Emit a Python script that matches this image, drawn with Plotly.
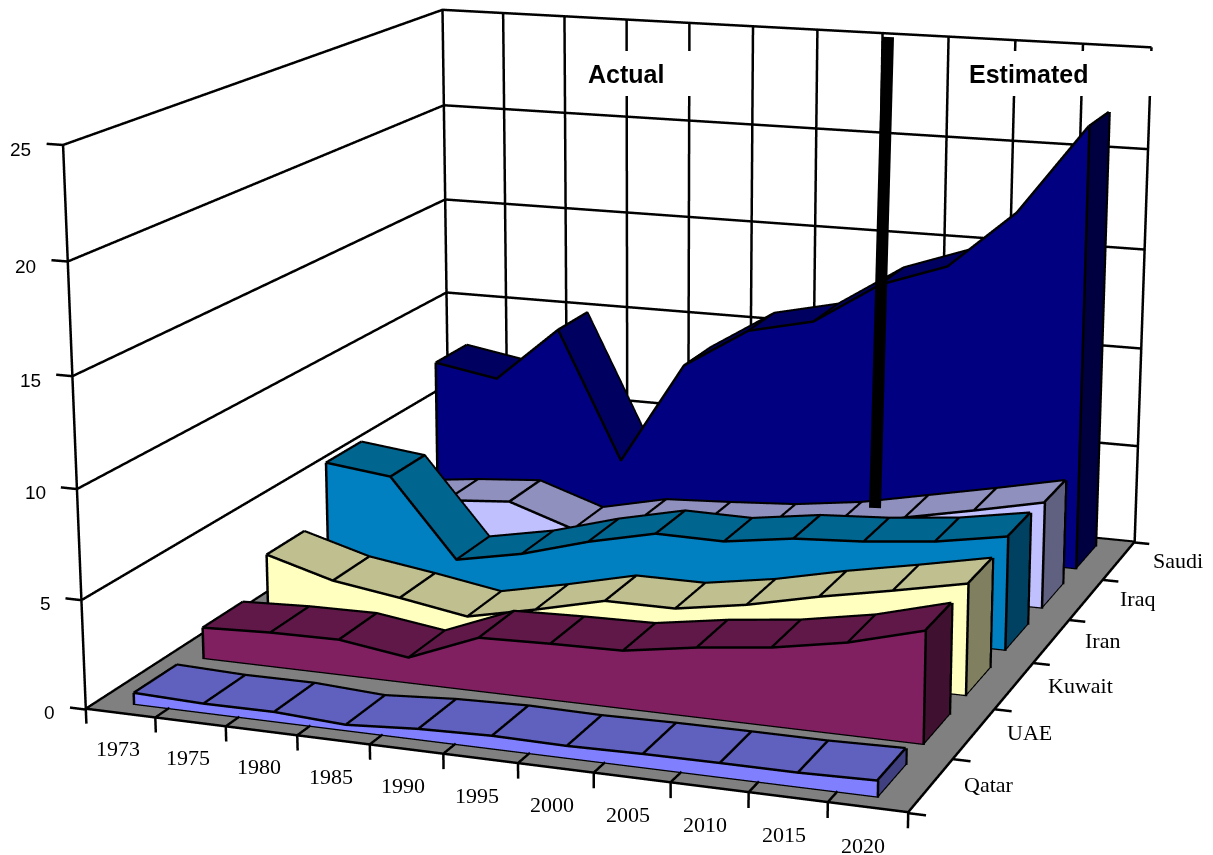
import numpy as np
import plotly.graph_objects as go

W, H = 1213, 855

YEARS = ['1973', '1975', '1980', '1985', '1990', '1995', '2000', '2005', '2010', '2015', '2020']
COUNTRIES = ['Qatar', 'UAE', 'Kuwait', 'Iran', 'Iraq', 'Saudi']
Z_TICKS = [0, 5, 10, 15, 20, 25]

# Output by country and year, front row to back row
QATAR = [0.52, 0.42, 0.44, 0.26, 0.48, 0.58, 0.54, 0.60, 0.62, 0.62, 0.70]
UAE = [1.46, 1.60, 1.64, 1.18, 2.48, 2.58, 2.64, 3.16, 3.54, 4.14, 5.04]
KUWAIT = [3.00, 2.08, 1.60, 1.06, 1.76, 2.54, 2.54, 3.08, 3.82, 4.46, 5.14]
IRAN = [5.72, 5.34, 1.52, 2.16, 3.10, 3.84, 3.80, 4.28, 4.48, 4.82, 5.40]
IRAQ = [1.96, 2.34, 2.60, 1.52, 2.26, 2.44, 2.66, 3.10, 3.78, 4.46, 5.18]
SAUDI = [7.56, 7.00, 9.84, 3.28, 8.54, 10.60, 11.34, 13.46, 14.62, 17.52, 21.92]
SERIES = [QATAR, UAE, KUWAIT, IRAN, IRAQ, SAUDI]

# Front, top and end-cap shades for each ribbon
SHADES = [
    ('#8080FF', '#6060BF', '#404080'),
    ('#802060', '#601848', '#401030'),
    ('#FFFFC0', '#BFBF90', '#808060'),
    ('#0080C0', '#006690', '#004060'),
    ('#C0C0FF', '#9090BF', '#606080'),
    ('#000080', '#000060', '#000040'),
]

GAP = 0.2
EYE = (1.541, -4.248, 1.105)
CENTER = (-0.007, -0.122, -0.055)
UP = (-0.032, 0.094, 1.0)
DEPTH_ASPECT, HEIGHT_ASPECT = 1.096, 0.671
FOCAL_PX = 3763
X_RANGE, Y_RANGE, Z_RANGE = [-2.5, 13.5], [-1.5, 7.5], [-2, 27]
LIGHT = dict(ambient=1, diffuse=0, specular=0, roughness=1, fresnel=0)
# Outlines ride just proud of the faces so the depth test keeps their full width
LIFT_Z, LIFT_Y = 0.04, 0.012

fig = go.Figure()

# Grey floor of the chart box
fig.add_trace(go.Mesh3d(x=[0, 11, 11, 0], y=[0, 0, 6, 6], z=[0, 0, 0, 0], i=[0, 0], j=[1, 2], k=[2, 3],
                        color='#808080', flatshading=True, lighting=LIGHT, hoverinfo='skip'))

lx, ly, lz = [], [], []


def polyline(*points):
    for p in points:
        lx.append(p[0])
        ly.append(p[1])
        lz.append(p[2])
    lx.append(None)
    ly.append(None)
    lz.append(None)


# Wall grid, floor border and axis ticks
for z in Z_TICKS:
    polyline((-.23, 0, z), (0, 0, z), (0, 6, z), (11, 6, z))
for x in range(12):
    polyline((x, 6, 0), (x, 6, 25))
polyline((0, 0, 0), (0, 0, 25))
polyline((0, 0, LIFT_Z), (11, 0, LIFT_Z), (11, 6, LIFT_Z), (0, 6, LIFT_Z), (0, 0, LIFT_Z))
for x in range(12):
    polyline((x, .2, LIFT_Z), (x, 0, LIFT_Z), (x, 0, -.65))
for y in range(7):
    polyline((11, y, 0), (11.22, y, 0))

# One closed ribbon per country
for row, (values, shade) in enumerate(zip(SERIES, SHADES)):
    n = len(values)
    xs = [i + .5 for i in range(n)]
    y0, y1 = row + GAP, row + 1 - GAP
    vx, vy, vz = [], [], []
    for x, v in zip(xs, values):
        vx += [x] * 4
        vy += [y0, y0, y1, y1]
        vz += [0, v, v, 0]
    ia, ib, ic, colors = [], [], [], []

    def quad(a, b, c, d, col):
        ia.extend([a, a])
        ib.extend([b, c])
        ic.extend([c, d])
        colors.extend([col, col])

    for i in range(n - 1):
        a, b = 4 * i, 4 * (i + 1)
        quad(a, a + 1, b + 1, b, shade[0])
        quad(a + 1, a + 2, b + 2, b + 1, shade[1])
        quad(a + 2, a + 3, b + 3, b + 2, shade[0])
    quad(0, 1, 2, 3, shade[2])
    end = 4 * (n - 1)
    quad(end, end + 1, end + 2, end + 3, shade[2])
    fig.add_trace(go.Mesh3d(x=vx, y=vy, z=vz, i=ia, j=ib, k=ic, facecolor=colors, flatshading=True,
                            lighting=LIGHT, hoverinfo='skip'))
    yf = y0 - LIFT_Y
    polyline(*[(x, yf, v + LIFT_Z) for x, v in zip(xs, values)])
    polyline(*[(x, y1, v + LIFT_Z) for x, v in zip(xs, values)])
    for x, v in zip(xs, values):
        polyline((x, yf, v + LIFT_Z), (x, y1, v + LIFT_Z))
    polyline((xs[0], yf, 0), (xs[-1], yf, 0))
    polyline((xs[-1] + LIFT_Y, yf, 0), (xs[-1] + LIFT_Y, y1, 0), (xs[-1] + LIFT_Y, y1, values[-1] + LIFT_Z))
    polyline((xs[-1] + LIFT_Y, yf, 0), (xs[-1] + LIFT_Y, yf, values[-1] + LIFT_Z))
    polyline((xs[0], yf, 0), (xs[0], yf, values[0] + LIFT_Z))

fig.add_trace(go.Scatter3d(x=lx, y=ly, z=lz, mode='lines', line=dict(color='black', width=5),
                           hoverinfo='skip', showlegend=False))

# Axis labels sit in data coordinates so they follow the projection
serif = dict(family='Liberation Serif', size=22, color='black')
labels = []
for i, year in enumerate(YEARS):
    labels.append(dict(x=i + .45, y=0, z=-1.62, text=year, showarrow=False, font=serif))
for row, name in enumerate(COUNTRIES):
    labels.append(dict(x=11.38 + .018 * row, y=row + .5, z=.2, text=name, showarrow=False, xanchor='left', font=serif))
for z in Z_TICKS:
    labels.append(dict(x=-.42, y=0, z=z - .3, text=str(z), showarrow=False, xanchor='right',
                       font=dict(family='Liberation Sans', size=19, color='black')))

fig.update_layout(
    width=W, height=H, margin=dict(l=0, r=0, t=0, b=0), paper_bgcolor='white', showlegend=False,
    scene=dict(
        xaxis=dict(visible=False, range=X_RANGE),
        yaxis=dict(visible=False, range=Y_RANGE),
        zaxis=dict(visible=False, range=Z_RANGE),
        aspectmode='manual',
        aspectratio=dict(x=(X_RANGE[1] - X_RANGE[0]) / 11,
                         y=DEPTH_ASPECT * (Y_RANGE[1] - Y_RANGE[0]) / 6,
                         z=HEIGHT_ASPECT * (Z_RANGE[1] - Z_RANGE[0]) / 25),
        dragmode=False,
        annotations=labels,
        camera=dict(eye=dict(x=EYE[0], y=EYE[1], z=EYE[2]),
                    center=dict(x=CENTER[0], y=CENTER[1], z=CENTER[2]),
                    up=dict(x=UP[0], y=UP[1], z=UP[2])),
    ),
)


def px(x):
    return x / W


def py(y):
    return 1 - y / H


# Divider between actual and estimated years, and the white boxes behind the two captions
fig.add_shape(type='line', xref='paper', yref='paper', x0=px(888), y0=py(37), x1=px(875), y1=py(508),
              line=dict(color='black', width=12), layer='above')
for left, right in [(572, 700), (955, 1160)]:
    fig.add_shape(type='rect', xref='paper', yref='paper', x0=px(left), x1=px(right), y0=py(96), y1=py(51),
                  fillcolor='white', line=dict(width=0), layer='above')
for caption, cx in [('Actual', 626), ('Estimated', 1028)]:
    fig.add_annotation(x=px(cx), y=py(74), xref='paper', yref='paper', xanchor='center', yanchor='middle',
                       text='<b>%s</b>' % caption, showarrow=False,
                       font=dict(family='Liberation Sans', size=25, color='black'))

# Long-lens view: narrow the scene's vertical field of view once it exists
FOV = 2 * np.arctan(H / 2 / FOCAL_PX)
post = """(function(){var gd=document.getElementById('{plot_id}');function s(){var l=gd._fullLayout.scene._scene;
if(!l||!l.glplot){setTimeout(s,50);return;}l.glplot.fovy=%f;l.glplot.redraw();}s();})();""" % FOV
fig.write_html("out.html", post_script=post)
